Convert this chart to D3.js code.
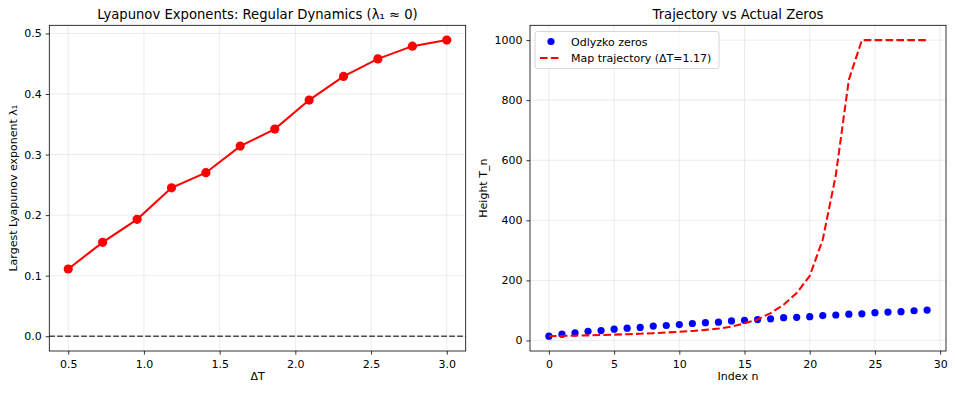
<!DOCTYPE html>
<html>
<head>
<meta charset="utf-8">
<script src="https://cdn.jsdelivr.net/npm/d3@7"></script>
<style>
  body { margin: 0; background: #fff; }
  text { font-family: "DejaVu Sans", sans-serif; fill: #000; }
</style>
</head>
<body>
<script>
// left panel: lambda_1 vs step size
var deltaT = [0.5, 0.727, 0.955, 1.182, 1.409, 1.636, 1.864, 2.091, 2.318, 2.545, 2.773, 3.0];
var lyapunov = [0.111, 0.155, 0.193, 0.245, 0.270, 0.314, 0.342, 0.390, 0.429, 0.458, 0.479, 0.489];
var lyapTicksX = [0.5, 1.0, 1.5, 2.0, 2.5, 3.0];
var lyapTicksY = [0.0, 0.1, 0.2, 0.3, 0.4, 0.5];

// right panel: zeros vs map trajectory
var indexN = d3.range(30);
var odlyzko = [14.13, 21.02, 25.01, 30.42, 32.94, 37.59, 40.92, 43.33, 48.01, 49.77,
               52.97, 56.45, 59.35, 60.83, 65.11, 67.08, 69.55, 72.07, 75.70, 77.14,
               79.34, 82.91, 84.74, 87.43, 88.81, 92.49, 94.65, 95.87, 98.83, 101.32];
var trajectory = [14.13, 15.0, 16.0, 17.0, 18.1, 19.4, 20.8, 22.4, 24.3, 26.4,
                  28.8, 31.7, 35.2, 39.5, 46, 57, 70, 91, 119, 158,
                  215, 336, 550, 868, 1000, 1000, 1000, 1000, 1000, 1000];
var trajTicksX = [0, 5, 10, 15, 20, 25, 30];
var trajTicksY = [0, 200, 400, 600, 800, 1000];

var W = 955, H = 394;
var fs = 11;

var svg = d3.select('body').append('svg')
    .attr('width', W)
    .attr('height', H);

function panel(box, xd, yd, xticks, yticks, fmtX, fmtY, title, xlabel, ylabel, ylabelX) {
  var x = d3.scaleLinear().domain(xd).range([box.l, box.r]);
  var y = d3.scaleLinear().domain(yd).range([box.b, box.t]);
  var g = svg.append('g');

  // grid
  g.selectAll('.gx').data(xticks).enter().append('line')
      .attr('x1', function(d) { return x(d); }).attr('x2', function(d) { return x(d); })
      .attr('y1', box.t).attr('y2', box.b)
      .attr('stroke', '#b0b0b0').attr('stroke-opacity', 0.3).attr('stroke-width', 0.8);
  g.selectAll('.gy').data(yticks).enter().append('line')
      .attr('y1', function(d) { return y(d); }).attr('y2', function(d) { return y(d); })
      .attr('x1', box.l).attr('x2', box.r)
      .attr('stroke', '#b0b0b0').attr('stroke-opacity', 0.3).attr('stroke-width', 0.8);

  var xAxis = g.append('g')
      .attr('transform', 'translate(0,' + box.b + ')')
      .call(d3.axisBottom(x).tickValues(xticks).tickFormat(fmtX).tickSize(3.6).tickPadding(6));
  var yAxis = g.append('g')
      .attr('transform', 'translate(' + box.l + ',0)')
      .call(d3.axisLeft(y).tickValues(yticks).tickFormat(fmtY).tickSize(3.6).tickPadding(4));
  [xAxis, yAxis].forEach(function(a) {
    a.select('.domain').remove();
    a.selectAll('line').attr('stroke', '#000').attr('stroke-width', 0.8);
    a.selectAll('text').style('font-size', fs + 'px').style('font-family', '"DejaVu Sans", sans-serif').attr('fill', '#000');
  });

  g.append('text')
      .attr('x', (box.l + box.r) / 2).attr('y', 18.5)
      .attr('text-anchor', 'middle')
      .style('font-size', '13.2px')
      .text(title);
  g.append('text')
      .attr('x', (box.l + box.r) / 2).attr('y', 380)
      .attr('text-anchor', 'middle')
      .style('font-size', fs + 'px')
      .text(xlabel);
  g.append('text')
      .attr('transform', 'translate(' + ylabelX + ',' + (box.t + box.b) / 2 + ') rotate(-90)')
      .attr('text-anchor', 'middle')
      .style('font-size', fs + 'px')
      .text(ylabel);

  return {g: g, x: x, y: y, box: box};
}

function frame(p) {
  p.g.append('rect')
      .attr('x', p.box.l).attr('y', p.box.t)
      .attr('width', p.box.r - p.box.l).attr('height', p.box.b - p.box.t)
      .attr('fill', 'none').attr('stroke', '#000').attr('stroke-width', 0.8);
}

// ---- left
var p1 = panel({l: 49.3, r: 465.7, t: 25.3, b: 351},
    [0.375, 3.125], [-0.02445, 0.51345],
    lyapTicksX, lyapTicksY, d3.format('.1f'), d3.format('.1f'),
    'Lyapunov Exponents: Regular Dynamics (λ₁ ≈ 0)', 'ΔT', 'Largest Lyapunov exponent λ₁', 16.5);

var cp1 = p1.g.append('g');
cp1.append('line')
    .attr('x1', p1.box.l).attr('x2', p1.box.r)
    .attr('y1', p1.y(0)).attr('y2', p1.y(0))
    .attr('stroke', '#000').attr('stroke-opacity', 0.7)
    .attr('stroke-width', 1.5).attr('stroke-dasharray', '5.6,2.4');

cp1.append('path')
    .datum(deltaT.map(function(d, i) { return [d, lyapunov[i]]; }))
    .attr('fill', 'none').attr('stroke', 'red').attr('stroke-width', 2.05)
    .attr('d', d3.line().x(function(d) { return p1.x(d[0]); }).y(function(d) { return p1.y(d[1]); }));
cp1.selectAll('circle').data(deltaT).enter().append('circle')
    .attr('cx', function(d) { return p1.x(d); })
    .attr('cy', function(d, i) { return p1.y(lyapunov[i]); })
    .attr('r', 4.6).attr('fill', 'red');
frame(p1);

// ---- right
var p2 = panel({l: 530, r: 946, t: 25.3, b: 351},
    [-1.45, 30.45], [-35.1, 1049.3],
    trajTicksX, trajTicksY, d3.format('d'), d3.format('d'),
    'Trajectory vs Actual Zeros', 'Index n', 'Height T_n', 487);

var cp2 = p2.g.append('g');
cp2.selectAll('circle').data(indexN).enter().append('circle')
    .attr('cx', function(d) { return p2.x(d); })
    .attr('cy', function(d) { return p2.y(odlyzko[d]); })
    .attr('r', 3.6).attr('fill', 'blue');
cp2.append('path')
    .datum(indexN)
    .attr('fill', 'none').attr('stroke', 'red').attr('stroke-width', 2.05)
    .attr('stroke-dasharray', '7.6,3.3')
    .attr('d', d3.line().x(function(d) { return p2.x(d); }).y(function(d) { return p2.y(trajectory[d]); }));
frame(p2);

// legend
var lg = p2.g.append('g').attr('transform', 'translate(535,31.5)');
lg.append('rect')
    .attr('width', 184).attr('height', 37).attr('rx', 2.5)
    .attr('fill', '#fff').attr('fill-opacity', 0.8)
    .attr('stroke', '#ccc').attr('stroke-width', 0.8);
lg.append('circle').attr('cx', 16).attr('cy', 10).attr('r', 3.6).attr('fill', 'blue');
lg.append('line').attr('x1', 5).attr('x2', 26).attr('y1', 26.5).attr('y2', 26.5)
    .attr('stroke', 'red').attr('stroke-width', 2.05).attr('stroke-dasharray', '7.6,3.3');
lg.append('text').attr('x', 36).attr('y', 14).style('font-size', fs + 'px').text('Odlyzko zeros');
lg.append('text').attr('x', 36).attr('y', 30.5).style('font-size', fs + 'px').text('Map trajectory (ΔT=1.17)');
</script>
</body>
</html>
